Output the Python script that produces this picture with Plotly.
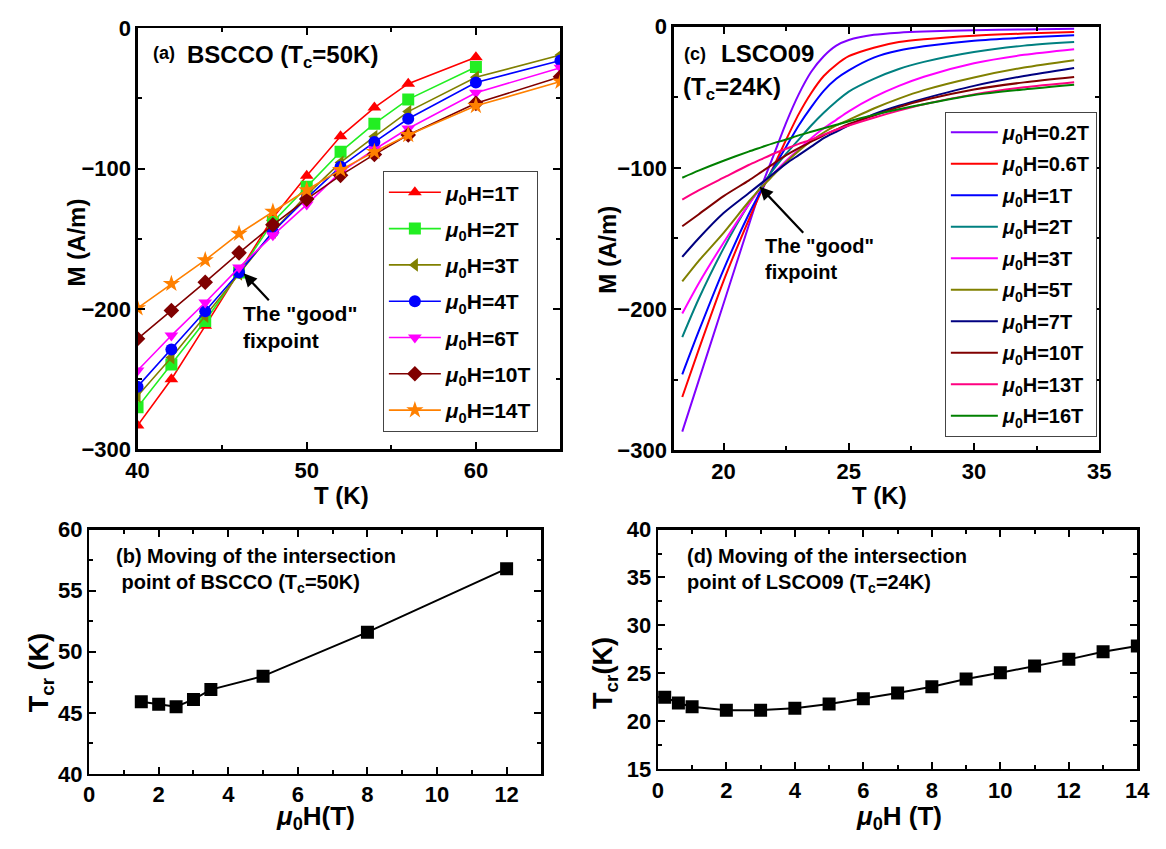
import plotly.graph_objects as go

W, H = 1166, 849
FONT = "Liberation Sans, Arial, sans-serif"

# ---------------- data: panel (a) BSCCO ----------------
T_a = [40, 42, 44, 46, 48, 50, 52, 54, 56, 60, 65]
M_a_1T = [-283, -250, -212, -174, -135, -105, -77, -56.5, -39.5, -20.7]
M_a_2T = [-270, -239.6, -208.5, -174, -138, -113, -88, -68, -50.7, -27.6]
M_a_3T = [-262, -234.6, -205, -175, -145, -118.7, -95.6, -77.2, -59.4, -35, -19.1]
M_a_4T = [-255.3, -228.8, -201.6, -174, -145, -121, -98.6, -81.1, -64.5, -38.7, -23]
M_a_6T = [-243.8, -218.9, -195.4, -170.5, -147.5, -125.6, -102.5, -86.4, -71.4, -46, -28.1]
M_a_10T = [-221.2, -201, -180.9, -160, -140, -121.7, -104.8, -89.9, -76, -53.5, -34.6]
M_a_14T = [-199.3, -182, -165.2, -146.3, -130.6, -115.2, -100.9, -88, -76, -55.3, -38]
labels_a = ["1T", "2T", "3T", "4T", "6T", "10T", "14T"]
series_a = [M_a_1T, M_a_2T, M_a_3T, M_a_4T, M_a_6T, M_a_10T, M_a_14T]

# ---------------- data: panel (c) LSCO09 ----------------
T_c = [18.35, 19, 20, 21, 21.5, 22, 22.5, 23, 23.5, 24, 24.5, 25, 26, 27, 28, 30, 32, 34]
M_c_02T = [-286.7, -251, -196, -141, -114, -91, -68, -48, -32, -21, -13.5, -9.5, -5.8, -4.3, -3.5, -2.6, -2.0, -1.6]
M_c_06T = [-262.2, -229, -180, -137, -117, -99, -80, -62, -47, -35, -27, -21, -15, -11, -9, -6.5, -5, -3.9]
M_c_1T = [-246.2, -216, -172, -133, -116, -100, -85, -70, -57, -45.5, -37, -31, -22, -17, -14, -10, -7.8, -6.2]
M_c_2T = [-219.8, -193, -157, -126, -113, -101, -90, -80, -70, -61, -53, -46, -37, -30, -25, -18, -13.5, -11]
M_c_3T = [-203.1, -182, -153, -126, -114, -104, -95, -87, -79, -72, -66, -60, -50, -42, -35.5, -26, -20, -16]
M_c_5T = [-180.4, -166, -146, -124, -114, -105, -96, -88, -81, -75, -70, -66, -58, -51, -45, -36, -29, -23.8]
M_c_7T = [-163, -150, -132, -118, -111, -104, -97, -91, -85, -79, -74.5, -70, -62, -56, -51, -42, -35, -29.3]
M_c_10T = [-141.3, -133, -120, -109, -103, -97, -91, -86, -81.5, -77, -73, -69, -63, -57, -52, -44.5, -39.5, -35.7]
M_c_13T = [-122.5, -116, -107, -98, -94, -90, -86.5, -83, -80, -76.5, -73, -70, -64.5, -59.5, -55, -48, -43, -39.4]
M_c_16T = [-107, -102, -95, -88.5, -85.5, -82.5, -80, -77, -74.5, -72, -69.5, -67, -62.5, -58.5, -55, -48.5, -44.5, -41.2]
labels_c = ["0.2T", "0.6T", "1T", "2T", "3T", "5T", "7T", "10T", "13T", "16T"]
series_c = [M_c_02T, M_c_06T, M_c_1T, M_c_2T, M_c_3T, M_c_5T, M_c_7T, M_c_10T, M_c_13T, M_c_16T]

# ---------------- data: panel (b) ----------------
H_b = [1.5, 2, 2.5, 3, 3.5, 5, 8, 12]
Tcr_b = [45.9, 45.7, 45.5, 46.1, 46.9, 48.0, 51.6, 56.8]

# ---------------- data: panel (d) ----------------
H_d = [0.2, 0.6, 1, 2, 3, 4, 5, 6, 7, 8, 9, 10, 11, 12, 13, 14]
Tcr_d = [22.5, 21.9, 21.5, 21.15, 21.15, 21.35, 21.8, 22.35, 22.95, 23.6, 24.4, 25.05, 25.75, 26.45, 27.25, 27.85]

# ---------------- styles ----------------
colors_a = ["#FF0000", "#22EE22", "#808000", "#0000FF", "#FF00FF", "#800000", "#FF8000"]
symbols_a = ["triangle-up", "square", "triangle-left", "circle", "triangle-down", "diamond", "star"]
colors_c = ["#8000FF", "#FF0000", "#0000FF", "#008080", "#FF00FF", "#808000",
            "#000080", "#800000", "#FF0080", "#008000"]


def px(x):
    return x / W


def py(y):
    return 1 - y / H


fig = go.Figure()

for i, (lab, m) in enumerate(zip(labels_a, series_a)):
    fig.add_trace(go.Scatter(
        x=T_a[:len(m)], y=m, mode="lines+markers", xaxis="x", yaxis="y",
        name="<b><i>μ</i><sub>0</sub>H=" + lab + "</b>",
        line=dict(color=colors_a[i], width=1.6),
        marker=dict(symbol=symbols_a[i], size=12 if symbols_a[i] != "star" else 13,
                    color=colors_a[i], line=dict(width=0)),
        legend="legend", legendgroup="a" + lab))

for i, (lab, m) in enumerate(zip(labels_c, series_c)):
    fig.add_trace(go.Scatter(
        x=T_c, y=m, mode="lines", xaxis="x2", yaxis="y2",
        name="<b><i>μ</i><sub>0</sub>H=" + lab + "</b>",
        line=dict(color=colors_c[i], width=2, shape="spline", smoothing=0.7),
        legend="legend2", legendgroup="c" + lab))

fig.add_trace(go.Scatter(
    x=H_b, y=Tcr_b, mode="lines+markers", xaxis="x3", yaxis="y3", showlegend=False,
    line=dict(color="black", width=2), marker=dict(symbol="square", size=13, color="black")))

fig.add_trace(go.Scatter(
    x=H_d, y=Tcr_d, mode="lines+markers", xaxis="x4", yaxis="y4", showlegend=False,
    line=dict(color="black", width=2), marker=dict(symbol="square", size=13, color="black")))


def axis(domain, rng, dtick, minor_dtick, anchor, tick0=0):
    return dict(
        domain=domain, range=rng, anchor=anchor, dtick=dtick, tick0=tick0,
        showline=True, linecolor="black", linewidth=2.2, mirror="allticks",
        ticks="inside", ticklen=7, tickwidth=2, tickcolor="black",
        minor=dict(dtick=minor_dtick, ticks="inside", ticklen=4, tickwidth=2,
                   tickcolor="black", showgrid=False),
        showgrid=False, zeroline=False,
        tickfont=dict(family=FONT, size=22, color="black", weight="bold"),
    )


fig.update_layout(
    width=W, height=H, margin=dict(l=0, r=0, t=0, b=0),
    paper_bgcolor="white", plot_bgcolor="white",
    font=dict(family=FONT, color="black"),
    xaxis=axis([px(128.3), px(560.5)], [40, 65], 10, 5, "y"),
    yaxis=axis([py(450.7), py(16.7)], [-300, 0], 100, 50, "x"),
    xaxis2=axis([px(676), px(1111)], [18, 35], 5, 2.5, "y2", tick0=20),
    yaxis2=axis([py(451.7), py(15)], [-300, 0], 100, 50, "x2"),
    xaxis3=axis([px(78.8), px(541)], [0, 13], 2, 1, "y3"),
    yaxis3=axis([py(785), py(533.3)], [40, 60], 5, 2.5, "x3"),
    xaxis4=axis([px(660), px(1150)], [0, 14], 2, 1, "y4"),
    yaxis4=axis([py(780), py(533.3)], [15, 40], 5, 2.5, "x4"),
    legend=dict(x=px(379), y=py(164), xanchor="left", yanchor="top",
                bordercolor="#444", borderwidth=1, bgcolor="white",
                font=dict(family=FONT, size=21, color="black"),
                itemwidth=52, tracegroupgap=6, traceorder="grouped"),
    legend2=dict(x=px(953.3), y=py(102.7), xanchor="left", yanchor="top",
                 bordercolor="#444", borderwidth=1, bgcolor="white",
                 font=dict(family=FONT, size=20, color="black"),
                 itemwidth=47, tracegroupgap=2.5, traceorder="grouped"),
    showlegend=True,
)

ann = []


def text(x, y, s, size, xanchor="left", yanchor="middle", angle=0, align="left"):
    ann.append(dict(x=px(x), y=py(y), xref="paper", yref="paper", text=s, showarrow=False,
                    xanchor=xanchor, yanchor=yanchor, textangle=angle, align=align,
                    font=dict(family=FONT, size=size, color="black")))


# panel titles
text(142, 42, "<b>(a)</b>", 18)
text(177, 46, "<b>BSCCO (T<sub>c</sub>=50K)</b>", 24)
text(685, 43, "<b>(c)</b>", 18)
text(722, 43, "<b>LSCO09</b>", 24)
text(684, 79, "<b>(T<sub>c</sub>=24K)</b>", 24)
text(104, 575, "<b>(b) Moving of the intersection<br>&nbsp;point of BSCCO (T<sub>c</sub>=50K)</b>", 20)
text(688, 575, "<b>(d) Moving of the intersection<br>point of LSCO09 (T<sub>c</sub>=24K)</b>", 20)

# fixpoint labels
text(234, 297, "<b>The \"good\"<br>fixpoint</b>", 21, yanchor="top")
text(767, 228, "<b>The \"good\"<br>fixpoint</b>", 20, yanchor="top")

# axis titles
text(337, 498, "<b>T (K)</b>", 24, xanchor="center")
text(886, 498, "<b>T (K)</b>", 24, xanchor="center")
text(66, 238, "<b>M (A/m)</b>", 24, xanchor="center", angle=-90)
text(609, 245, "<b>M (A/m)</b>", 24, xanchor="center", angle=-90)
text(30, 681, "<b>T<sub>cr</sub> (K)</b>", 27, xanchor="center", angle=-90)
text(606, 681, "<b>T<sub>cr</sub>(K)</b>", 27, xanchor="center", angle=-90)
text(310, 830, "<b><i>μ</i><sub>0</sub>H(T)</b>", 26, xanchor="center")
text(906, 830, "<b><i>μ</i><sub>0</sub>H (T)</b>", 26, xanchor="center")

# arrows
ann.append(dict(x=46.27, y=-174.6, xref="x", yref="y", text="", showarrow=True,
                ax=26.6, ay=28.4, arrowhead=2, arrowsize=1.2, arrowwidth=2.2,
                arrowcolor="black", standoff=0))
ann.append(dict(x=21.44, y=-113.3, xref="x2", yref="y2", text="", showarrow=True,
                ax=45, ay=47.7, arrowhead=2, arrowsize=1.2, arrowwidth=2.2,
                arrowcolor="black", standoff=0))

fig.update_layout(annotations=ann)

fig.write_html("out.html",
               config={"displayModeBar": False, "staticPlot": True},
               post_script="document.body.style.margin='0px';"
                           "document.body.style.overflow='hidden';")
